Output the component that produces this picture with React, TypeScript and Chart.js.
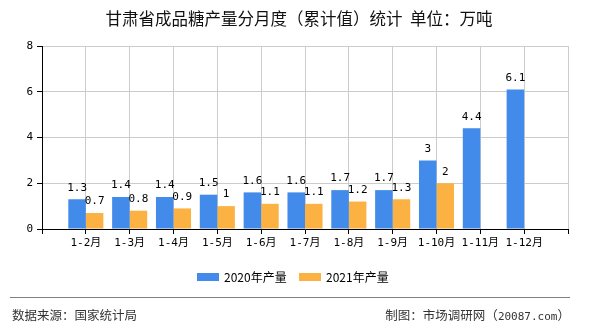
import React, { useEffect, useRef } from "react";
import { Chart, registerables } from "chart.js";

Chart.register(...registerables);

const months = ["1-2月", "1-3月", "1-4月", "1-5月", "1-6月", "1-7月", "1-8月", "1-9月", "1-10月", "1-11月", "1-12月"];
const values2020: (number | null)[] = [1.3, 1.4, 1.4, 1.5, 1.6, 1.6, 1.7, 1.7, 3, 4.4, 6.1];
const values2021: (number | null)[] = [0.7, 0.8, 0.9, 1, 1.1, 1.1, 1.2, 1.3, 2, null, null];
const seriesNames = ["2020年产量", "2021年产量"];
const yTicks = [0, 2, 4, 6, 8];

const BLUE = "#428BEB";
const ORANGE = "#FBB242";
const MONO = '"DejaVu Sans Mono", "Noto Sans CJK SC", monospace';
const CJK = '"Noto Sans CJK SC", "DejaVu Sans", sans-serif';

const valueLabels = {
  id: "valueLabels",
  afterDatasetsDraw(chart: any) {
    const ctx = chart.ctx;
    ctx.save();
    ctx.font = "11px " + MONO;
    ctx.fillStyle = "#000";
    ctx.textAlign = "center";
    ctx.textBaseline = "bottom";
    chart.data.datasets.forEach((ds: any, i: number) => {
      const meta = chart.getDatasetMeta(i);
      meta.data.forEach((el: any, j: number) => {
        const v = ds.data[j];
        if (v === null || v === undefined) return;
        ctx.fillText(String(v), el.x, el.y - 6);
      });
    });
    ctx.restore();
  },
};

export default function App() {
  const ref = useRef<HTMLCanvasElement | null>(null);

  useEffect(() => {
    if (!ref.current) return;
    const labels = ["", ...months, ""];
    const pad = (arr: (number | null)[]) => [null, ...arr, null];
    const chart = new Chart(ref.current, {
      type: "bar",
      data: {
        labels,
        datasets: [
          {
            label: seriesNames[0],
            data: pad(values2020),
            backgroundColor: BLUE,
            categoryPercentage: 0.8,
            barPercentage: 1,
          },
          {
            label: seriesNames[1],
            data: pad(values2021),
            backgroundColor: ORANGE,
            categoryPercentage: 0.8,
            barPercentage: 1,
          },
        ],
      },
      options: {
        responsive: false,
        animation: false,
        devicePixelRatio: 1,
        layout: { padding: { top: 46, left: 0, right: 22, bottom: 0 } },
        plugins: {
          legend: { display: false },
          title: { display: false },
          tooltip: { enabled: false },
        },
        scales: {
          x: {
            type: "category",
            offset: false,
            grid: {
              color: "#cccccc",
              tickColor: "#000",
              tickLength: 5,
              offset: false,
            },
            border: { color: "#000", width: 1 },
            ticks: {
              color: "#000",
              font: { family: MONO, size: 11 },
              padding: 3,
              autoSkip: false,
              maxRotation: 0,
            },
            afterFit(scale: any) {
              scale.height = 101;
            },
          },
          y: {
            min: 0,
            max: 8,
            afterBuildTicks(scale: any) {
              scale.ticks = yTicks.map((v) => ({ value: v }));
            },
            grid: {
              color: "#cccccc",
              tickColor: "#000",
              tickLength: 5,
            },
            border: { color: "#000", width: 1 },
            ticks: {
              color: "#000",
              font: { family: MONO, size: 11 },
              padding: 4,
            },
            afterFit(scale: any) {
              scale.width = 42;
            },
          },
        },
      },
      plugins: [valueLabels],
    });
    return () => chart.destroy();
  }, []);

  const legendItem = (color: string, text: string, left: number) => (
    <div style={{ position: "absolute", left, top: 269, height: 16, display: "flex", alignItems: "center" }}>
      <div style={{ width: 22, height: 8, background: color, marginRight: 5 }} />
      <span style={{ fontFamily: CJK, fontSize: 12, color: "#000", lineHeight: "16px" }}>{text}</span>
    </div>
  );

  return (
    <div style={{ position: "absolute", left: 0, top: 0, width: 590, height: 330, background: "#fff", overflow: "hidden" }}>
      <canvas ref={ref} width={590} height={330} style={{ position: "absolute", left: 0, top: 0 }} />
      <div
        style={{
          position: "absolute",
          left: 0,
          top: 7,
          width: 598,
          textAlign: "center",
          fontFamily: CJK,
          fontSize: 16.5,
          lineHeight: "22px",
          color: "#111",
          whiteSpace: "pre",
        }}
      >
        甘肃省成品糖产量分月度（累计值）统计  单位：万吨
      </div>
      {legendItem(BLUE, seriesNames[0], 197)}
      {legendItem(ORANGE, seriesNames[1], 299)}
      <div style={{ position: "absolute", left: 10, top: 297, width: 560, height: 0, borderTop: "1px solid #808080" }} />
      <div style={{ position: "absolute", left: 12, top: 306, fontFamily: CJK, fontSize: 12.5, lineHeight: "18px", color: "#333" }}>
        数据来源：国家统计局
      </div>
      <div style={{ position: "absolute", right: 20, top: 306, fontFamily: CJK, fontSize: 12.5, lineHeight: "18px", color: "#333", whiteSpace: "pre" }}>
        制图：市场调研网（<span style={{ fontFamily: MONO, fontSize: 11 }}>20087.com</span>）
      </div>
    </div>
  );
}
